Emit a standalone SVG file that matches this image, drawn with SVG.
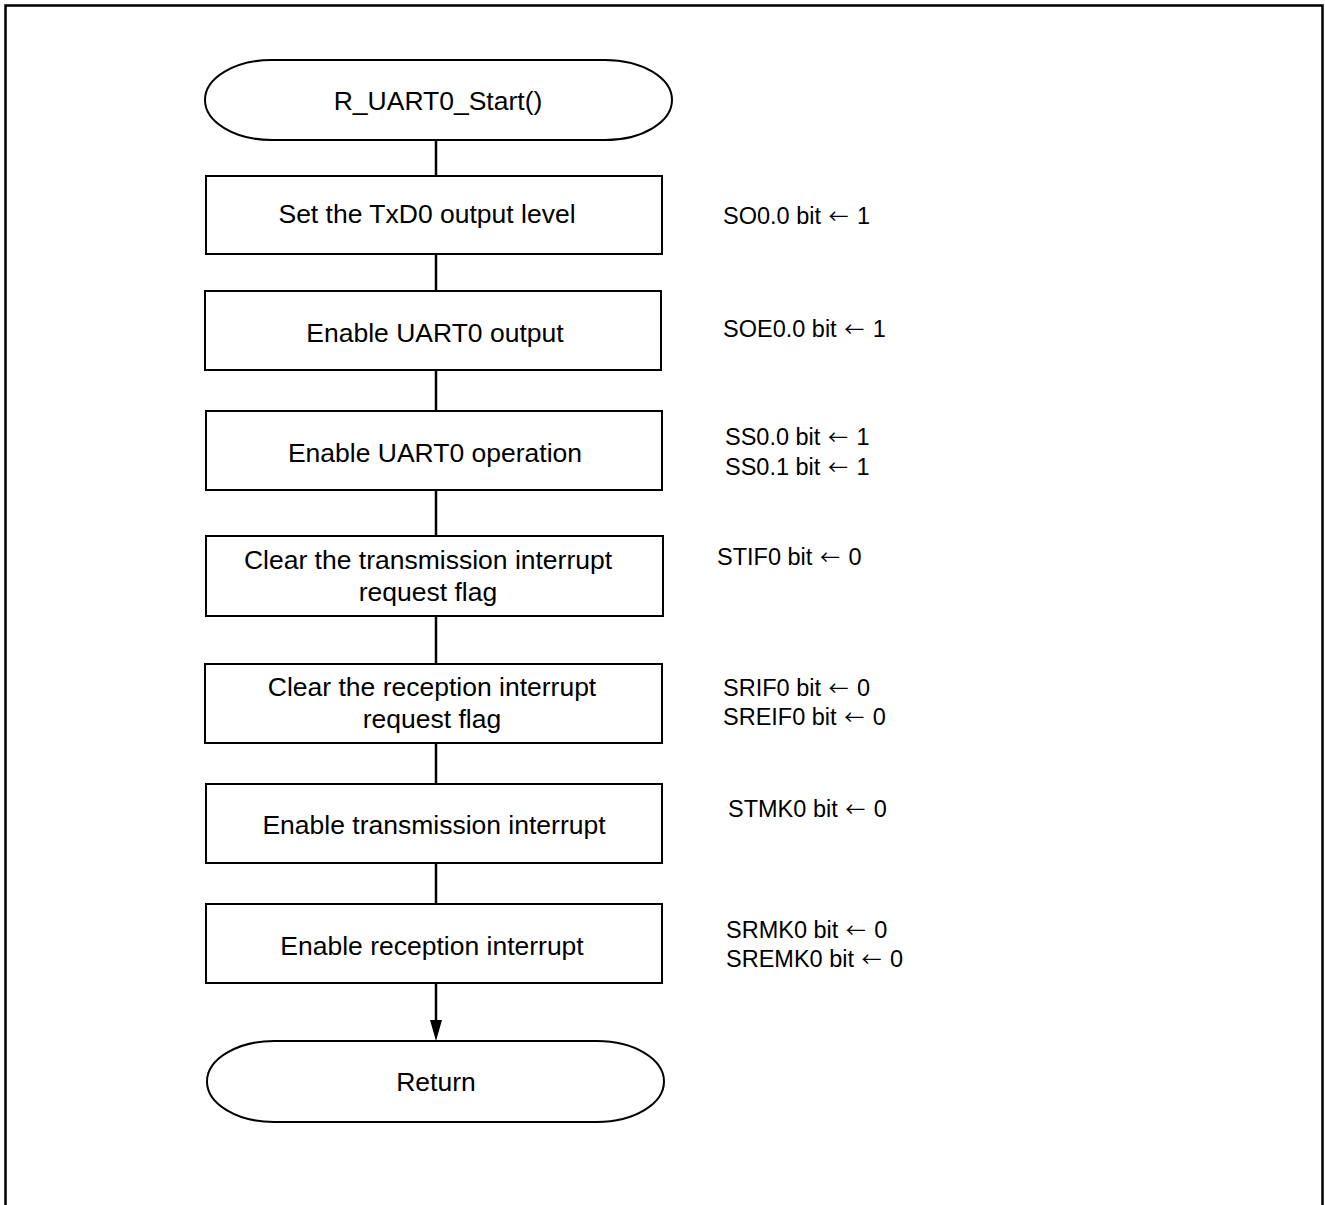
<svg xmlns="http://www.w3.org/2000/svg" width="1325" height="1205" viewBox="0 0 1325 1205">
<defs>
<style>
.n{fill:#fff;stroke:#000;stroke-width:2}
.t{font-family:"Liberation Sans",Arial,sans-serif;font-size:26.5px;fill:#000;text-anchor:middle}
.a{font-family:"Liberation Sans",Arial,sans-serif;font-size:23.5px;fill:#000}
.r{font-family:"Noto Sans CJK JP","DejaVu Sans",sans-serif;font-size:20px}
.c{stroke:#000;stroke-width:2.5;fill:none}
</style>
</defs>
<rect x="5.5" y="5.5" width="1317" height="1220" fill="none" stroke="#000" stroke-width="2.5"/>
<g id="connectors">
<line class="c" x1="436" y1="140" x2="436" y2="176"/>
<line class="c" x1="436" y1="254" x2="436" y2="291"/>
<line class="c" x1="436" y1="370" x2="436" y2="411"/>
<line class="c" x1="436" y1="490" x2="436" y2="536"/>
<line class="c" x1="436" y1="616" x2="436" y2="664"/>
<line class="c" x1="436" y1="743" x2="436" y2="784"/>
<line class="c" x1="436" y1="863" x2="436" y2="904"/>
<path class="c" d="M436,983 V1021" />
<path d="M430,1020 L436,1041 L442,1020 Z" fill="#000"/>
</g>
<g id="start">
<path class="n" d="M272,60 H605 A67,40 0 0 1 605,140 H272 A67,40 0 0 1 272,60 Z"/>
<text class="t" x="438" y="110">R_UART0_Start()</text>
</g>
<g id="n1">
<rect class="n" x="206" y="176" width="456" height="78"/>
<text class="t" x="427" y="223">Set the TxD0 output level</text>
<text class="a" x="723" y="224">SO0.0 bit <tspan class="r" dx="1">←</tspan><tspan dx="2"> 1</tspan></text>
</g>
<g id="n2">
<rect class="n" x="205" y="291" width="456" height="79"/>
<text class="t" x="435" y="342">Enable UART0 output</text>
<text class="a" x="723" y="337">SOE0.0 bit <tspan class="r" dx="1">←</tspan><tspan dx="2"> 1</tspan></text>
</g>
<g id="n3">
<rect class="n" x="206" y="411" width="456" height="79"/>
<text class="t" x="435" y="462">Enable UART0 operation</text>
<text class="a" x="725" y="445">SS0.0 bit <tspan class="r" dx="1">←</tspan><tspan dx="2"> 1</tspan></text>
<text class="a" x="725" y="475">SS0.1 bit <tspan class="r" dx="1">←</tspan><tspan dx="2"> 1</tspan></text>
</g>
<g id="n4">
<rect class="n" x="206" y="536" width="457" height="80"/>
<text class="t" x="428" y="569">Clear the transmission interrupt</text>
<text class="t" x="428" y="601">request flag</text>
<text class="a" x="717" y="565">STIF0 bit <tspan class="r" dx="1">←</tspan><tspan dx="2"> 0</tspan></text>
</g>
<g id="n5">
<rect class="n" x="205" y="664" width="457" height="79"/>
<text class="t" x="432" y="696">Clear the reception interrupt</text>
<text class="t" x="432" y="728">request flag</text>
<text class="a" x="723" y="696">SRIF0 bit <tspan class="r" dx="1">←</tspan><tspan dx="2"> 0</tspan></text>
<text class="a" x="723" y="725">SREIF0 bit <tspan class="r" dx="1">←</tspan><tspan dx="2"> 0</tspan></text>
</g>
<g id="n6">
<rect class="n" x="206" y="784" width="456" height="79"/>
<text class="t" x="434" y="834">Enable transmission interrupt</text>
<text class="a" x="728" y="817">STMK0 bit <tspan class="r" dx="1">←</tspan><tspan dx="2"> 0</tspan></text>
</g>
<g id="n7">
<rect class="n" x="206" y="904" width="456" height="79"/>
<text class="t" x="432" y="955">Enable reception interrupt</text>
<text class="a" x="726" y="938">SRMK0 bit <tspan class="r" dx="1">←</tspan><tspan dx="2"> 0</tspan></text>
<text class="a" x="726" y="967">SREMK0 bit <tspan class="r" dx="1">←</tspan><tspan dx="2"> 0</tspan></text>
</g>
<g id="end">
<path class="n" d="M274,1041 H597 A67,40.5 0 0 1 597,1122 H274 A67,40.5 0 0 1 274,1041 Z"/>
<text class="t" x="436" y="1091">Return</text>
</g>
</svg>
